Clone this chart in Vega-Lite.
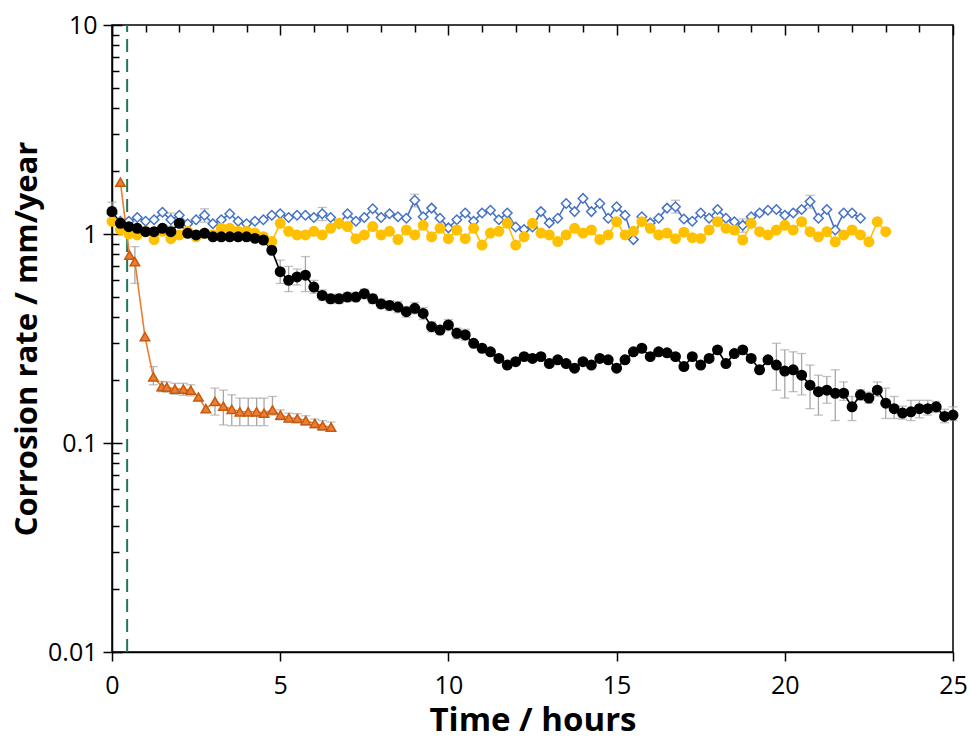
{
  "$schema": "https://vega.github.io/schema/vega-lite/v6.json",
  "width": 841,
  "height": 627,
  "autosize": {"type": "none"},
  "padding": {"left": 112, "top": 25, "right": 16, "bottom": 88},
  "background": "#ffffff",
  "config": {
    "font": "Open Sans",
    "view": {"stroke": "#000000", "strokeWidth": 1.5},
    "axis": {"domainColor": "#000000", "domainWidth": 1.5, "tickColor": "#000000", "tickWidth": 1.5, "labelColor": "#000000", "titleColor": "#000000", "gridColor": "#000000", "gridWidth": 1.5, "gridOpacity": 1}
  },
  "datasets": {
    "main": [
      {"s": "0.86M NaClO4", "t": 0, "v": 1.25, "lo": 1.16, "hi": 1.34},
      {"s": "0.86M NaClO4", "t": 0.25, "v": 1.15},
      {"s": "0.86M NaClO4", "t": 0.5, "v": 1.15},
      {"s": "0.86M NaClO4", "t": 0.75, "v": 1.2},
      {"s": "0.86M NaClO4", "t": 1, "v": 1.15},
      {"s": "0.86M NaClO4", "t": 1.25, "v": 1.17},
      {"s": "0.86M NaClO4", "t": 1.5, "v": 1.27},
      {"s": "0.86M NaClO4", "t": 1.75, "v": 1.17, "lo": 1.09, "hi": 1.26},
      {"s": "0.86M NaClO4", "t": 2, "v": 1.23},
      {"s": "0.86M NaClO4", "t": 2.25, "v": 1.12},
      {"s": "0.86M NaClO4", "t": 2.5, "v": 1.17},
      {"s": "0.86M NaClO4", "t": 2.75, "v": 1.23, "lo": 1.14, "hi": 1.32},
      {"s": "0.86M NaClO4", "t": 3, "v": 1.12},
      {"s": "0.86M NaClO4", "t": 3.25, "v": 1.17},
      {"s": "0.86M NaClO4", "t": 3.5, "v": 1.25},
      {"s": "0.86M NaClO4", "t": 3.75, "v": 1.15},
      {"s": "0.86M NaClO4", "t": 4, "v": 1.12},
      {"s": "0.86M NaClO4", "t": 4.25, "v": 1.15},
      {"s": "0.86M NaClO4", "t": 4.5, "v": 1.17},
      {"s": "0.86M NaClO4", "t": 4.75, "v": 1.23},
      {"s": "0.86M NaClO4", "t": 5, "v": 1.25},
      {"s": "0.86M NaClO4", "t": 5.25, "v": 1.2},
      {"s": "0.86M NaClO4", "t": 5.5, "v": 1.23},
      {"s": "0.86M NaClO4", "t": 5.75, "v": 1.23},
      {"s": "0.86M NaClO4", "t": 6, "v": 1.2},
      {"s": "0.86M NaClO4", "t": 6.25, "v": 1.25, "lo": 1.16, "hi": 1.34},
      {"s": "0.86M NaClO4", "t": 6.5, "v": 1.2},
      {"s": "0.86M NaClO4", "t": 6.75, "v": 1.12},
      {"s": "0.86M NaClO4", "t": 7, "v": 1.25},
      {"s": "0.86M NaClO4", "t": 7.25, "v": 1.15},
      {"s": "0.86M NaClO4", "t": 7.5, "v": 1.2},
      {"s": "0.86M NaClO4", "t": 7.75, "v": 1.32},
      {"s": "0.86M NaClO4", "t": 8, "v": 1.2},
      {"s": "0.86M NaClO4", "t": 8.25, "v": 1.25},
      {"s": "0.86M NaClO4", "t": 8.5, "v": 1.21},
      {"s": "0.86M NaClO4", "t": 8.75, "v": 1.19},
      {"s": "0.86M NaClO4", "t": 9, "v": 1.45, "lo": 1.35, "hi": 1.55},
      {"s": "0.86M NaClO4", "t": 9.25, "v": 1.21},
      {"s": "0.86M NaClO4", "t": 9.5, "v": 1.33},
      {"s": "0.86M NaClO4", "t": 9.75, "v": 1.19},
      {"s": "0.86M NaClO4", "t": 10, "v": 1.07},
      {"s": "0.86M NaClO4", "t": 10.25, "v": 1.17},
      {"s": "0.86M NaClO4", "t": 10.5, "v": 1.26},
      {"s": "0.86M NaClO4", "t": 10.75, "v": 1.15},
      {"s": "0.86M NaClO4", "t": 11, "v": 1.26},
      {"s": "0.86M NaClO4", "t": 11.25, "v": 1.3},
      {"s": "0.86M NaClO4", "t": 11.5, "v": 1.17},
      {"s": "0.86M NaClO4", "t": 11.75, "v": 1.26},
      {"s": "0.86M NaClO4", "t": 12, "v": 1.08},
      {"s": "0.86M NaClO4", "t": 12.25, "v": 1.05},
      {"s": "0.86M NaClO4", "t": 12.5, "v": 1.08},
      {"s": "0.86M NaClO4", "t": 12.75, "v": 1.28},
      {"s": "0.86M NaClO4", "t": 13, "v": 1.13},
      {"s": "0.86M NaClO4", "t": 13.25, "v": 1.19},
      {"s": "0.86M NaClO4", "t": 13.5, "v": 1.4},
      {"s": "0.86M NaClO4", "t": 13.75, "v": 1.28},
      {"s": "0.86M NaClO4", "t": 14, "v": 1.48},
      {"s": "0.86M NaClO4", "t": 14.25, "v": 1.28},
      {"s": "0.86M NaClO4", "t": 14.5, "v": 1.4},
      {"s": "0.86M NaClO4", "t": 14.75, "v": 1.19},
      {"s": "0.86M NaClO4", "t": 15, "v": 1.35},
      {"s": "0.86M NaClO4", "t": 15.25, "v": 1.23},
      {"s": "0.86M NaClO4", "t": 15.5, "v": 0.94},
      {"s": "0.86M NaClO4", "t": 15.75, "v": 1.21},
      {"s": "0.86M NaClO4", "t": 16, "v": 1.13},
      {"s": "0.86M NaClO4", "t": 16.25, "v": 1.19},
      {"s": "0.86M NaClO4", "t": 16.5, "v": 1.33},
      {"s": "0.86M NaClO4", "t": 16.75, "v": 1.35, "lo": 1.26, "hi": 1.45},
      {"s": "0.86M NaClO4", "t": 17, "v": 1.18},
      {"s": "0.86M NaClO4", "t": 17.25, "v": 1.15},
      {"s": "0.86M NaClO4", "t": 17.5, "v": 1.26},
      {"s": "0.86M NaClO4", "t": 17.75, "v": 1.19},
      {"s": "0.86M NaClO4", "t": 18, "v": 1.31},
      {"s": "0.86M NaClO4", "t": 18.25, "v": 1.19},
      {"s": "0.86M NaClO4", "t": 18.5, "v": 1.145},
      {"s": "0.86M NaClO4", "t": 18.75, "v": 1.1, "lo": 1.02, "hi": 1.18},
      {"s": "0.86M NaClO4", "t": 19, "v": 1.21},
      {"s": "0.86M NaClO4", "t": 19.25, "v": 1.26},
      {"s": "0.86M NaClO4", "t": 19.5, "v": 1.3},
      {"s": "0.86M NaClO4", "t": 19.75, "v": 1.31},
      {"s": "0.86M NaClO4", "t": 20, "v": 1.23},
      {"s": "0.86M NaClO4", "t": 20.25, "v": 1.26},
      {"s": "0.86M NaClO4", "t": 20.5, "v": 1.31},
      {"s": "0.86M NaClO4", "t": 20.75, "v": 1.43, "lo": 1.33, "hi": 1.53},
      {"s": "0.86M NaClO4", "t": 21, "v": 1.19},
      {"s": "0.86M NaClO4", "t": 21.25, "v": 1.31},
      {"s": "0.86M NaClO4", "t": 21.5, "v": 1.045},
      {"s": "0.86M NaClO4", "t": 21.75, "v": 1.26},
      {"s": "0.86M NaClO4", "t": 22, "v": 1.26},
      {"s": "0.86M NaClO4", "t": 22.25, "v": 1.19},
      {"s": "0.86M NaClO4+4ppm CI", "t": 0, "v": 1.15},
      {"s": "0.86M NaClO4+4ppm CI", "t": 0.25, "v": 1.05},
      {"s": "0.86M NaClO4+4ppm CI", "t": 0.5, "v": 1.0},
      {"s": "0.86M NaClO4+4ppm CI", "t": 0.75, "v": 0.99},
      {"s": "0.86M NaClO4+4ppm CI", "t": 1, "v": 1.03},
      {"s": "0.86M NaClO4+4ppm CI", "t": 1.25, "v": 0.94},
      {"s": "0.86M NaClO4+4ppm CI", "t": 1.5, "v": 1.03},
      {"s": "0.86M NaClO4+4ppm CI", "t": 1.75, "v": 0.95},
      {"s": "0.86M NaClO4+4ppm CI", "t": 2, "v": 0.99},
      {"s": "0.86M NaClO4+4ppm CI", "t": 2.25, "v": 1.03},
      {"s": "0.86M NaClO4+4ppm CI", "t": 2.5, "v": 0.97},
      {"s": "0.86M NaClO4+4ppm CI", "t": 2.75, "v": 1.01},
      {"s": "0.86M NaClO4+4ppm CI", "t": 3, "v": 0.99},
      {"s": "0.86M NaClO4+4ppm CI", "t": 3.25, "v": 1.065},
      {"s": "0.86M NaClO4+4ppm CI", "t": 3.5, "v": 1.065},
      {"s": "0.86M NaClO4+4ppm CI", "t": 3.75, "v": 1.03},
      {"s": "0.86M NaClO4+4ppm CI", "t": 4, "v": 1.03},
      {"s": "0.86M NaClO4+4ppm CI", "t": 4.25, "v": 1.01},
      {"s": "0.86M NaClO4+4ppm CI", "t": 4.5, "v": 0.97},
      {"s": "0.86M NaClO4+4ppm CI", "t": 4.75, "v": 0.92},
      {"s": "0.86M NaClO4+4ppm CI", "t": 5, "v": 1.125},
      {"s": "0.86M NaClO4+4ppm CI", "t": 5.25, "v": 1.03},
      {"s": "0.86M NaClO4+4ppm CI", "t": 5.5, "v": 0.99},
      {"s": "0.86M NaClO4+4ppm CI", "t": 5.75, "v": 0.99},
      {"s": "0.86M NaClO4+4ppm CI", "t": 6, "v": 1.03},
      {"s": "0.86M NaClO4+4ppm CI", "t": 6.25, "v": 0.99},
      {"s": "0.86M NaClO4+4ppm CI", "t": 6.5, "v": 1.065},
      {"s": "0.86M NaClO4+4ppm CI", "t": 6.75, "v": 1.125},
      {"s": "0.86M NaClO4+4ppm CI", "t": 7, "v": 1.085},
      {"s": "0.86M NaClO4+4ppm CI", "t": 7.25, "v": 0.95},
      {"s": "0.86M NaClO4+4ppm CI", "t": 7.5, "v": 0.99},
      {"s": "0.86M NaClO4+4ppm CI", "t": 7.75, "v": 1.085},
      {"s": "0.86M NaClO4+4ppm CI", "t": 8, "v": 0.99},
      {"s": "0.86M NaClO4+4ppm CI", "t": 8.25, "v": 1.03},
      {"s": "0.86M NaClO4+4ppm CI", "t": 8.5, "v": 0.94},
      {"s": "0.86M NaClO4+4ppm CI", "t": 8.75, "v": 1.045},
      {"s": "0.86M NaClO4+4ppm CI", "t": 9, "v": 0.99},
      {"s": "0.86M NaClO4+4ppm CI", "t": 9.25, "v": 1.1},
      {"s": "0.86M NaClO4+4ppm CI", "t": 9.5, "v": 0.97},
      {"s": "0.86M NaClO4+4ppm CI", "t": 9.75, "v": 1.065},
      {"s": "0.86M NaClO4+4ppm CI", "t": 10, "v": 0.95},
      {"s": "0.86M NaClO4+4ppm CI", "t": 10.25, "v": 1.045},
      {"s": "0.86M NaClO4+4ppm CI", "t": 10.5, "v": 0.95},
      {"s": "0.86M NaClO4+4ppm CI", "t": 10.75, "v": 1.065},
      {"s": "0.86M NaClO4+4ppm CI", "t": 11, "v": 0.885},
      {"s": "0.86M NaClO4+4ppm CI", "t": 11.25, "v": 1.01},
      {"s": "0.86M NaClO4+4ppm CI", "t": 11.5, "v": 1.03},
      {"s": "0.86M NaClO4+4ppm CI", "t": 11.75, "v": 1.125},
      {"s": "0.86M NaClO4+4ppm CI", "t": 12, "v": 0.885},
      {"s": "0.86M NaClO4+4ppm CI", "t": 12.25, "v": 0.97},
      {"s": "0.86M NaClO4+4ppm CI", "t": 12.5, "v": 1.125},
      {"s": "0.86M NaClO4+4ppm CI", "t": 12.75, "v": 1.01},
      {"s": "0.86M NaClO4+4ppm CI", "t": 13, "v": 0.99},
      {"s": "0.86M NaClO4+4ppm CI", "t": 13.25, "v": 0.92},
      {"s": "0.86M NaClO4+4ppm CI", "t": 13.5, "v": 0.99},
      {"s": "0.86M NaClO4+4ppm CI", "t": 13.75, "v": 1.065},
      {"s": "0.86M NaClO4+4ppm CI", "t": 14, "v": 1.01},
      {"s": "0.86M NaClO4+4ppm CI", "t": 14.25, "v": 1.045},
      {"s": "0.86M NaClO4+4ppm CI", "t": 14.5, "v": 0.94},
      {"s": "0.86M NaClO4+4ppm CI", "t": 14.75, "v": 0.99},
      {"s": "0.86M NaClO4+4ppm CI", "t": 15, "v": 1.145},
      {"s": "0.86M NaClO4+4ppm CI", "t": 15.25, "v": 0.99},
      {"s": "0.86M NaClO4+4ppm CI", "t": 15.5, "v": 1.03},
      {"s": "0.86M NaClO4+4ppm CI", "t": 15.75, "v": 1.145},
      {"s": "0.86M NaClO4+4ppm CI", "t": 16, "v": 1.065},
      {"s": "0.86M NaClO4+4ppm CI", "t": 16.25, "v": 0.99},
      {"s": "0.86M NaClO4+4ppm CI", "t": 16.5, "v": 1.01},
      {"s": "0.86M NaClO4+4ppm CI", "t": 16.75, "v": 0.95},
      {"s": "0.86M NaClO4+4ppm CI", "t": 17, "v": 1.02},
      {"s": "0.86M NaClO4+4ppm CI", "t": 17.25, "v": 0.96},
      {"s": "0.86M NaClO4+4ppm CI", "t": 17.5, "v": 0.953},
      {"s": "0.86M NaClO4+4ppm CI", "t": 17.75, "v": 1.045},
      {"s": "0.86M NaClO4+4ppm CI", "t": 18, "v": 1.145},
      {"s": "0.86M NaClO4+4ppm CI", "t": 18.25, "v": 1.065},
      {"s": "0.86M NaClO4+4ppm CI", "t": 18.5, "v": 1.045},
      {"s": "0.86M NaClO4+4ppm CI", "t": 18.75, "v": 0.936},
      {"s": "0.86M NaClO4+4ppm CI", "t": 19, "v": 1.125},
      {"s": "0.86M NaClO4+4ppm CI", "t": 19.25, "v": 1.026},
      {"s": "0.86M NaClO4+4ppm CI", "t": 19.5, "v": 0.99},
      {"s": "0.86M NaClO4+4ppm CI", "t": 19.75, "v": 1.045},
      {"s": "0.86M NaClO4+4ppm CI", "t": 20, "v": 1.1},
      {"s": "0.86M NaClO4+4ppm CI", "t": 20.25, "v": 1.045},
      {"s": "0.86M NaClO4+4ppm CI", "t": 20.5, "v": 1.145},
      {"s": "0.86M NaClO4+4ppm CI", "t": 20.75, "v": 1.026},
      {"s": "0.86M NaClO4+4ppm CI", "t": 21, "v": 0.97},
      {"s": "0.86M NaClO4+4ppm CI", "t": 21.25, "v": 1.026},
      {"s": "0.86M NaClO4+4ppm CI", "t": 21.5, "v": 0.918},
      {"s": "0.86M NaClO4+4ppm CI", "t": 21.75, "v": 0.99},
      {"s": "0.86M NaClO4+4ppm CI", "t": 22, "v": 1.045},
      {"s": "0.86M NaClO4+4ppm CI", "t": 22.25, "v": 0.99},
      {"s": "0.86M NaClO4+4ppm CI", "t": 22.5, "v": 0.918},
      {"s": "0.86M NaClO4+4ppm CI", "t": 22.75, "v": 1.145},
      {"s": "0.86M NaClO4+4ppm CI", "t": 23, "v": 1.026},
      {"s": "0.86M NaClO4+NaCl+4ppm CI", "t": 0, "v": 1.28, "lo": 1.15, "hi": 1.42},
      {"s": "0.86M NaClO4+NaCl+4ppm CI", "t": 0.25, "v": 1.125},
      {"s": "0.86M NaClO4+NaCl+4ppm CI", "t": 0.5, "v": 1.084},
      {"s": "0.86M NaClO4+NaCl+4ppm CI", "t": 0.75, "v": 1.065},
      {"s": "0.86M NaClO4+NaCl+4ppm CI", "t": 1, "v": 1.026},
      {"s": "0.86M NaClO4+NaCl+4ppm CI", "t": 1.25, "v": 1.026},
      {"s": "0.86M NaClO4+NaCl+4ppm CI", "t": 1.5, "v": 1.065},
      {"s": "0.86M NaClO4+NaCl+4ppm CI", "t": 1.75, "v": 1.026},
      {"s": "0.86M NaClO4+NaCl+4ppm CI", "t": 2, "v": 1.125},
      {"s": "0.86M NaClO4+NaCl+4ppm CI", "t": 2.25, "v": 1.008},
      {"s": "0.86M NaClO4+NaCl+4ppm CI", "t": 2.5, "v": 0.99},
      {"s": "0.86M NaClO4+NaCl+4ppm CI", "t": 2.75, "v": 1.008},
      {"s": "0.86M NaClO4+NaCl+4ppm CI", "t": 3, "v": 0.97},
      {"s": "0.86M NaClO4+NaCl+4ppm CI", "t": 3.25, "v": 0.97},
      {"s": "0.86M NaClO4+NaCl+4ppm CI", "t": 3.5, "v": 0.97},
      {"s": "0.86M NaClO4+NaCl+4ppm CI", "t": 3.75, "v": 0.97},
      {"s": "0.86M NaClO4+NaCl+4ppm CI", "t": 4, "v": 0.97},
      {"s": "0.86M NaClO4+NaCl+4ppm CI", "t": 4.25, "v": 0.953},
      {"s": "0.86M NaClO4+NaCl+4ppm CI", "t": 4.5, "v": 0.936},
      {"s": "0.86M NaClO4+NaCl+4ppm CI", "t": 4.75, "v": 0.836},
      {"s": "0.86M NaClO4+NaCl+4ppm CI", "t": 5, "v": 0.66, "lo": 0.58, "hi": 0.75},
      {"s": "0.86M NaClO4+NaCl+4ppm CI", "t": 5.25, "v": 0.6, "lo": 0.53, "hi": 0.7},
      {"s": "0.86M NaClO4+NaCl+4ppm CI", "t": 5.5, "v": 0.623, "lo": 0.57, "hi": 0.68},
      {"s": "0.86M NaClO4+NaCl+4ppm CI", "t": 5.75, "v": 0.635, "lo": 0.53, "hi": 0.78},
      {"s": "0.86M NaClO4+NaCl+4ppm CI", "t": 6, "v": 0.557, "lo": 0.52, "hi": 0.6},
      {"s": "0.86M NaClO4+NaCl+4ppm CI", "t": 6.25, "v": 0.508, "lo": 0.48, "hi": 0.54},
      {"s": "0.86M NaClO4+NaCl+4ppm CI", "t": 6.5, "v": 0.49, "lo": 0.465, "hi": 0.515},
      {"s": "0.86M NaClO4+NaCl+4ppm CI", "t": 6.75, "v": 0.49, "lo": 0.465, "hi": 0.515},
      {"s": "0.86M NaClO4+NaCl+4ppm CI", "t": 7, "v": 0.499, "lo": 0.475, "hi": 0.525},
      {"s": "0.86M NaClO4+NaCl+4ppm CI", "t": 7.25, "v": 0.499, "lo": 0.475, "hi": 0.525},
      {"s": "0.86M NaClO4+NaCl+4ppm CI", "t": 7.5, "v": 0.518, "lo": 0.49, "hi": 0.545},
      {"s": "0.86M NaClO4+NaCl+4ppm CI", "t": 7.75, "v": 0.49, "lo": 0.465, "hi": 0.515},
      {"s": "0.86M NaClO4+NaCl+4ppm CI", "t": 8, "v": 0.463, "lo": 0.44, "hi": 0.49},
      {"s": "0.86M NaClO4+NaCl+4ppm CI", "t": 8.25, "v": 0.455, "lo": 0.43, "hi": 0.48},
      {"s": "0.86M NaClO4+NaCl+4ppm CI", "t": 8.5, "v": 0.447, "lo": 0.42, "hi": 0.475},
      {"s": "0.86M NaClO4+NaCl+4ppm CI", "t": 8.75, "v": 0.425, "lo": 0.4, "hi": 0.45},
      {"s": "0.86M NaClO4+NaCl+4ppm CI", "t": 9, "v": 0.441, "lo": 0.415, "hi": 0.47},
      {"s": "0.86M NaClO4+NaCl+4ppm CI", "t": 9.25, "v": 0.417, "lo": 0.39, "hi": 0.445},
      {"s": "0.86M NaClO4+NaCl+4ppm CI", "t": 9.5, "v": 0.36, "lo": 0.34, "hi": 0.38},
      {"s": "0.86M NaClO4+NaCl+4ppm CI", "t": 9.75, "v": 0.347, "lo": 0.33, "hi": 0.365},
      {"s": "0.86M NaClO4+NaCl+4ppm CI", "t": 10, "v": 0.367, "lo": 0.345, "hi": 0.39},
      {"s": "0.86M NaClO4+NaCl+4ppm CI", "t": 10.25, "v": 0.335, "lo": 0.315, "hi": 0.355},
      {"s": "0.86M NaClO4+NaCl+4ppm CI", "t": 10.5, "v": 0.329, "lo": 0.31, "hi": 0.35},
      {"s": "0.86M NaClO4+NaCl+4ppm CI", "t": 10.75, "v": 0.3},
      {"s": "0.86M NaClO4+NaCl+4ppm CI", "t": 11, "v": 0.284},
      {"s": "0.86M NaClO4+NaCl+4ppm CI", "t": 11.25, "v": 0.273},
      {"s": "0.86M NaClO4+NaCl+4ppm CI", "t": 11.5, "v": 0.254},
      {"s": "0.86M NaClO4+NaCl+4ppm CI", "t": 11.75, "v": 0.236},
      {"s": "0.86M NaClO4+NaCl+4ppm CI", "t": 12, "v": 0.245},
      {"s": "0.86M NaClO4+NaCl+4ppm CI", "t": 12.25, "v": 0.259},
      {"s": "0.86M NaClO4+NaCl+4ppm CI", "t": 12.5, "v": 0.254},
      {"s": "0.86M NaClO4+NaCl+4ppm CI", "t": 12.75, "v": 0.259},
      {"s": "0.86M NaClO4+NaCl+4ppm CI", "t": 13, "v": 0.24},
      {"s": "0.86M NaClO4+NaCl+4ppm CI", "t": 13.25, "v": 0.25},
      {"s": "0.86M NaClO4+NaCl+4ppm CI", "t": 13.5, "v": 0.24},
      {"s": "0.86M NaClO4+NaCl+4ppm CI", "t": 13.75, "v": 0.228},
      {"s": "0.86M NaClO4+NaCl+4ppm CI", "t": 14, "v": 0.245},
      {"s": "0.86M NaClO4+NaCl+4ppm CI", "t": 14.25, "v": 0.236},
      {"s": "0.86M NaClO4+NaCl+4ppm CI", "t": 14.5, "v": 0.254},
      {"s": "0.86M NaClO4+NaCl+4ppm CI", "t": 14.75, "v": 0.25},
      {"s": "0.86M NaClO4+NaCl+4ppm CI", "t": 15, "v": 0.228},
      {"s": "0.86M NaClO4+NaCl+4ppm CI", "t": 15.25, "v": 0.25},
      {"s": "0.86M NaClO4+NaCl+4ppm CI", "t": 15.5, "v": 0.273},
      {"s": "0.86M NaClO4+NaCl+4ppm CI", "t": 15.75, "v": 0.284},
      {"s": "0.86M NaClO4+NaCl+4ppm CI", "t": 16, "v": 0.259},
      {"s": "0.86M NaClO4+NaCl+4ppm CI", "t": 16.25, "v": 0.273},
      {"s": "0.86M NaClO4+NaCl+4ppm CI", "t": 16.5, "v": 0.27},
      {"s": "0.86M NaClO4+NaCl+4ppm CI", "t": 16.75, "v": 0.259},
      {"s": "0.86M NaClO4+NaCl+4ppm CI", "t": 17, "v": 0.232},
      {"s": "0.86M NaClO4+NaCl+4ppm CI", "t": 17.25, "v": 0.259},
      {"s": "0.86M NaClO4+NaCl+4ppm CI", "t": 17.5, "v": 0.236},
      {"s": "0.86M NaClO4+NaCl+4ppm CI", "t": 17.75, "v": 0.254},
      {"s": "0.86M NaClO4+NaCl+4ppm CI", "t": 18, "v": 0.279},
      {"s": "0.86M NaClO4+NaCl+4ppm CI", "t": 18.25, "v": 0.24},
      {"s": "0.86M NaClO4+NaCl+4ppm CI", "t": 18.5, "v": 0.268},
      {"s": "0.86M NaClO4+NaCl+4ppm CI", "t": 18.75, "v": 0.279},
      {"s": "0.86M NaClO4+NaCl+4ppm CI", "t": 19, "v": 0.254},
      {"s": "0.86M NaClO4+NaCl+4ppm CI", "t": 19.25, "v": 0.224},
      {"s": "0.86M NaClO4+NaCl+4ppm CI", "t": 19.5, "v": 0.25},
      {"s": "0.86M NaClO4+NaCl+4ppm CI", "t": 19.75, "v": 0.236, "lo": 0.179, "hi": 0.3},
      {"s": "0.86M NaClO4+NaCl+4ppm CI", "t": 20, "v": 0.221, "lo": 0.164, "hi": 0.279},
      {"s": "0.86M NaClO4+NaCl+4ppm CI", "t": 20.25, "v": 0.224, "lo": 0.176, "hi": 0.273},
      {"s": "0.86M NaClO4+NaCl+4ppm CI", "t": 20.5, "v": 0.211, "lo": 0.17, "hi": 0.268},
      {"s": "0.86M NaClO4+NaCl+4ppm CI", "t": 20.75, "v": 0.189, "lo": 0.146, "hi": 0.236},
      {"s": "0.86M NaClO4+NaCl+4ppm CI", "t": 21, "v": 0.176, "lo": 0.136, "hi": 0.211},
      {"s": "0.86M NaClO4+NaCl+4ppm CI", "t": 21.25, "v": 0.179, "lo": 0.155, "hi": 0.208},
      {"s": "0.86M NaClO4+NaCl+4ppm CI", "t": 21.5, "v": 0.173, "lo": 0.128, "hi": 0.224},
      {"s": "0.86M NaClO4+NaCl+4ppm CI", "t": 21.75, "v": 0.173, "lo": 0.16, "hi": 0.196},
      {"s": "0.86M NaClO4+NaCl+4ppm CI", "t": 22, "v": 0.149, "lo": 0.128, "hi": 0.167},
      {"s": "0.86M NaClO4+NaCl+4ppm CI", "t": 22.25, "v": 0.17, "lo": 0.16, "hi": 0.18},
      {"s": "0.86M NaClO4+NaCl+4ppm CI", "t": 22.5, "v": 0.164, "lo": 0.155, "hi": 0.175},
      {"s": "0.86M NaClO4+NaCl+4ppm CI", "t": 22.75, "v": 0.179, "lo": 0.167, "hi": 0.196},
      {"s": "0.86M NaClO4+NaCl+4ppm CI", "t": 23, "v": 0.155, "lo": 0.131, "hi": 0.183},
      {"s": "0.86M NaClO4+NaCl+4ppm CI", "t": 23.25, "v": 0.146, "lo": 0.131, "hi": 0.167},
      {"s": "0.86M NaClO4+NaCl+4ppm CI", "t": 23.5, "v": 0.139, "lo": 0.13, "hi": 0.15},
      {"s": "0.86M NaClO4+NaCl+4ppm CI", "t": 23.75, "v": 0.141, "lo": 0.128, "hi": 0.16},
      {"s": "0.86M NaClO4+NaCl+4ppm CI", "t": 24, "v": 0.146, "lo": 0.132, "hi": 0.16},
      {"s": "0.86M NaClO4+NaCl+4ppm CI", "t": 24.25, "v": 0.146, "lo": 0.136, "hi": 0.16},
      {"s": "0.86M NaClO4+NaCl+4ppm CI", "t": 24.5, "v": 0.149, "lo": 0.14, "hi": 0.158},
      {"s": "0.86M NaClO4+NaCl+4ppm CI", "t": 24.75, "v": 0.134, "lo": 0.125, "hi": 0.145},
      {"s": "0.86M NaClO4+NaCl+4ppm CI", "t": 25, "v": 0.136, "lo": 0.128, "hi": 0.149},
      {"s": "50g/L NaCl+4ppm CI", "t": 0.25, "v": 1.77},
      {"s": "50g/L NaCl+4ppm CI", "t": 0.52, "v": 0.793},
      {"s": "50g/L NaCl+4ppm CI", "t": 0.68, "v": 0.737, "lo": 0.58, "hi": 0.87},
      {"s": "50g/L NaCl+4ppm CI", "t": 0.98, "v": 0.323},
      {"s": "50g/L NaCl+4ppm CI", "t": 1.23, "v": 0.207, "lo": 0.19, "hi": 0.232},
      {"s": "50g/L NaCl+4ppm CI", "t": 1.48, "v": 0.186, "lo": 0.176, "hi": 0.197},
      {"s": "50g/L NaCl+4ppm CI", "t": 1.63, "v": 0.185, "lo": 0.175, "hi": 0.196},
      {"s": "50g/L NaCl+4ppm CI", "t": 1.87, "v": 0.181, "lo": 0.171, "hi": 0.193},
      {"s": "50g/L NaCl+4ppm CI", "t": 2.12, "v": 0.181, "lo": 0.169, "hi": 0.193},
      {"s": "50g/L NaCl+4ppm CI", "t": 2.34, "v": 0.179, "lo": 0.168, "hi": 0.19},
      {"s": "50g/L NaCl+4ppm CI", "t": 2.57, "v": 0.166},
      {"s": "50g/L NaCl+4ppm CI", "t": 2.79, "v": 0.146},
      {"s": "50g/L NaCl+4ppm CI", "t": 3.06, "v": 0.158, "lo": 0.136, "hi": 0.183},
      {"s": "50g/L NaCl+4ppm CI", "t": 3.31, "v": 0.15, "lo": 0.122, "hi": 0.179},
      {"s": "50g/L NaCl+4ppm CI", "t": 3.56, "v": 0.145, "lo": 0.121, "hi": 0.17},
      {"s": "50g/L NaCl+4ppm CI", "t": 3.8, "v": 0.141, "lo": 0.121, "hi": 0.164},
      {"s": "50g/L NaCl+4ppm CI", "t": 4.05, "v": 0.141, "lo": 0.121, "hi": 0.164},
      {"s": "50g/L NaCl+4ppm CI", "t": 4.3, "v": 0.141, "lo": 0.121, "hi": 0.164},
      {"s": "50g/L NaCl+4ppm CI", "t": 4.52, "v": 0.139, "lo": 0.121, "hi": 0.164},
      {"s": "50g/L NaCl+4ppm CI", "t": 4.77, "v": 0.144, "lo": 0.136, "hi": 0.167},
      {"s": "50g/L NaCl+4ppm CI", "t": 5.01, "v": 0.136, "lo": 0.129, "hi": 0.144},
      {"s": "50g/L NaCl+4ppm CI", "t": 5.26, "v": 0.132, "lo": 0.126, "hi": 0.139},
      {"s": "50g/L NaCl+4ppm CI", "t": 5.51, "v": 0.131, "lo": 0.125, "hi": 0.138},
      {"s": "50g/L NaCl+4ppm CI", "t": 5.76, "v": 0.128, "lo": 0.122, "hi": 0.135},
      {"s": "50g/L NaCl+4ppm CI", "t": 6.03, "v": 0.124, "lo": 0.118, "hi": 0.13},
      {"s": "50g/L NaCl+4ppm CI", "t": 6.26, "v": 0.121, "lo": 0.115, "hi": 0.128},
      {"s": "50g/L NaCl+4ppm CI", "t": 6.51, "v": 0.119, "lo": 0.114, "hi": 0.126}
    ],
    "injection": [{"t": 0.45, "v": 0.01, "v2": 10}]
  },
  "encoding": {
    "x": {"field": "t", "type": "quantitative", "scale": {"domain": [0, 25], "nice": false, "zero": false}, "axis": null},
    "y": {"field": "v", "type": "quantitative", "scale": {"type": "log", "domain": [0.01, 10], "nice": false}, "axis": null}
  },
  "layer": [
    {
      "data": {"name": "injection"},
      "mark": {"type": "rule", "color": "#1E7A50", "strokeWidth": 2, "strokeDash": [13, 7]},
      "encoding": {
        "x": {"field": "t", "type": "quantitative",
          "axis": {"orient": "bottom", "values": [1,2,3,4,6,7,8,9,11,12,13,14,16,17,18,19,21,22,23,24], "labels": false, "ticks": false, "domain": false, "title": null, "grid": true, "gridDash": [7, 3000]}},
        "y": {"field": "v", "type": "quantitative",
          "axis": {"orient": "left", "values": [0.02,0.03,0.04,0.05,0.06,0.07,0.08,0.09,0.2,0.3,0.4,0.5,0.6,0.7,0.8,0.9,2,3,4,5,6,7,8,9], "labels": false, "ticks": false, "domain": false, "title": null, "grid": true, "gridDash": [7, 3000]}},
        "y2": {"field": "v2"}
      }
    },
    {
      "data": {"name": "main"},
      "mark": {"type": "rule", "color": "#A6A6A6", "strokeWidth": 1.3},
      "encoding": {"y": {"field": "lo", "type": "quantitative", "axis": null}, "y2": {"field": "hi"}}
    },
    {
      "data": {"name": "main"},
      "mark": {"type": "tick", "orient": "horizontal", "color": "#A6A6A6", "size": 9, "thickness": 1.3},
      "encoding": {"y": {"field": "lo", "type": "quantitative", "axis": null}}
    },
    {
      "data": {"name": "main"},
      "mark": {"type": "tick", "orient": "horizontal", "color": "#A6A6A6", "size": 9, "thickness": 1.3},
      "encoding": {"y": {"field": "hi", "type": "quantitative", "axis": null}}
    },
    {
      "data": {"name": "main"},
      "mark": {"type": "line", "strokeWidth": 1.6},
      "encoding": {
        "color": {"field": "s", "type": "nominal", "legend": null,
          "scale": {"domain": ["0.86M NaClO4", "0.86M NaClO4+4ppm CI", "0.86M NaClO4+NaCl+4ppm CI", "50g/L NaCl+4ppm CI"], "range": ["#4472C4", "#FFC000", "#000000", "#ED7D31"]}}
      }
    },
    {
      "data": {"name": "main"},
      "mark": {"type": "point", "filled": true, "opacity": 1, "size": 90, "strokeWidth": 1.5},
      "encoding": {
        "x": {"field": "t", "type": "quantitative",
          "axis": {"orient": "bottom", "values": [0, 5, 10, 15, 20, 25], "title": "Time / hours", "titleFontSize": 33, "titleFontWeight": "bold", "titlePadding": 6,
            "labelFontSize": 25, "labelPadding": 12, "labelFlush": false, "labelOverlap": false, "tickSize": 9,
            "grid": true, "gridDash": [10, 3000]}},
        "y": {"field": "v", "type": "quantitative",
          "axis": {"orient": "left", "values": [0.01, 0.1, 1, 10], "format": "~g", "title": "Corrosion rate / mm/year", "titleFontSize": 31, "titleFontWeight": "bold", "titlePadding": 4,
            "labelFontSize": 25, "labelPadding": 6, "labelFlush": false, "labelOverlap": false, "tickSize": 9,
            "grid": true, "gridDash": [10, 3000]}},
        "shape": {"field": "s", "type": "nominal",
          "scale": {"domain": ["0.86M NaClO4", "0.86M NaClO4+4ppm CI", "0.86M NaClO4+NaCl+4ppm CI", "50g/L NaCl+4ppm CI"], "range": ["diamond", "circle", "circle", "triangle-up"]},
          "legend": {"title": null, "orient": "top-right", "offset": 6, "padding": 0, "labelFontSize": 25, "labelColor": "#000000", "labelLimit": 600, "rowPadding": 20, "symbolSize": 70, "symbolStrokeWidth": 1.8, "labelOffset": 13}},
        "fill": {"field": "s", "type": "nominal",
          "scale": {"domain": ["0.86M NaClO4", "0.86M NaClO4+4ppm CI", "0.86M NaClO4+NaCl+4ppm CI", "50g/L NaCl+4ppm CI"], "range": ["#FFFFFF", "#FFC000", "#000000", "#ED7D31"]},
          "legend": {"title": null, "orient": "top-right", "offset": 6, "padding": 0, "labelFontSize": 25, "labelColor": "#000000", "labelLimit": 600, "rowPadding": 20, "symbolSize": 70, "symbolStrokeWidth": 1.8, "labelOffset": 13}},
        "stroke": {"field": "s", "type": "nominal",
          "scale": {"domain": ["0.86M NaClO4", "0.86M NaClO4+4ppm CI", "0.86M NaClO4+NaCl+4ppm CI", "50g/L NaCl+4ppm CI"], "range": ["#4472C4", "#FFC000", "#000000", "#C55A11"]},
          "legend": {"title": null, "orient": "top-right", "offset": 6, "padding": 0, "labelFontSize": 25, "labelColor": "#000000", "labelLimit": 600, "rowPadding": 20, "symbolSize": 70, "symbolStrokeWidth": 1.8, "labelOffset": 13}}
      }
    }
  ],
  "resolve": {"axis": {"x": "independent", "y": "independent"}}
}
